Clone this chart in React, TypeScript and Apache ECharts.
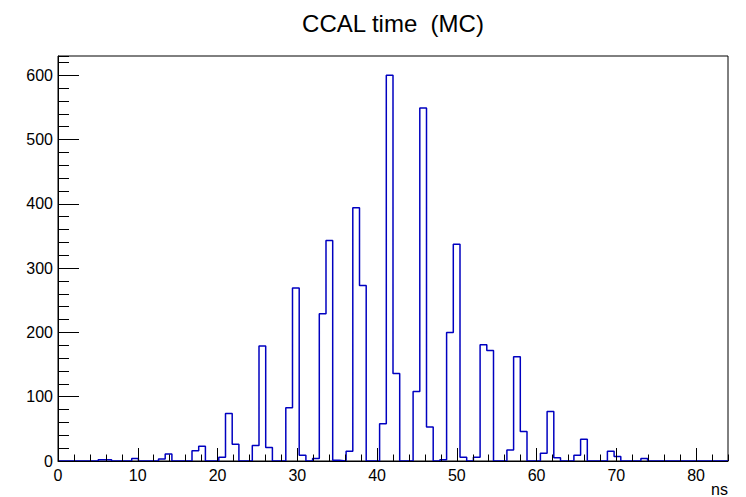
import React, { useEffect, useRef } from "react";
import * as echarts from "echarts";

// Histogram binning: 100 bins from 0 to 84 ns
const X_MIN = 0;
const X_MAX = 84;
const N_BINS = 100;

// Bin contents (bin 0 .. bin 99)
const counts: number[] = [
  0, 0, 0, 0, 0, 0, 2, 2, 0, 0, // 0-9
  0, 4, 0, 0, 0, 3, 11, 0, 0, 0, // 10-19
  16, 23, 0, 0, 6, 74, 26, 0, 0, 24, // 20-29
  179, 21, 0, 0, 83, 269, 9, 0, 4, 229, // 30-39
  343, 1, 0, 15, 394, 273, 0, 0, 58, 600, // 40-49
  136, 0, 0, 108, 549, 53, 0, 2, 200, 337, // 50-59
  6, 0, 6, 181, 172, 0, 0, 17, 162, 46, // 60-69
  0, 0, 12, 77, 5, 0, 0, 9, 34, 0, // 70-79
  0, 0, 15, 7, 0, 0, 0, 4, 0, 0, // 80-89
  0, 0, 0, 0, 0, 0, 0, 0, 0, 0, // 90-99
];

const TITLE = "CCAL time  (MC)";
const X_TITLE = "ns";
const Y_MAX = 630;

export default function App() {
  const ref = useRef<HTMLDivElement>(null);

  useEffect(() => {
    document.body.style.margin = "0";
    const chart = echarts.init(ref.current!, null, { renderer: "svg" });
    const font = "'Liberation Sans', Arial, Helvetica, sans-serif";
    const labelStyle = { color: "#000", fontFamily: font, fontSize: 16 };

    const binW = (X_MAX - X_MIN) / N_BINS;
    const data: [number, number][] = counts.map((c, i) => [X_MIN + i * binW, c]);
    data.push([X_MAX, counts[counts.length - 1]]);

    const option = {
      animation: false,
      backgroundColor: "#fff",
      grid: {
        left: 58,
        right: 18,
        top: 56,
        bottom: 35.5,
        show: true,
        borderColor: "#000",
        borderWidth: 1,
        backgroundColor: "transparent",
      },
      graphic: [
        {
          type: "text",
          x: 393,
          y: 23,
          style: {
            text: TITLE,
            font: `24px ${font}`,
            textAlign: "center",
            textVerticalAlign: "middle",
            fill: "#000",
          },
        },
      ],
      xAxis: [
        {
          type: "value",
          min: X_MIN,
          max: X_MAX,
          interval: 10,
          position: "bottom",
          z: 5,
          axisLine: { show: true, onZero: false, lineStyle: { color: "#000", width: 1 } },
          axisTick: { show: true, inside: true, length: 13, lineStyle: { color: "#000" } },
          axisLabel: { ...labelStyle, margin: 6, showMaxLabel: false },
          splitLine: { show: false },
          name: X_TITLE,
          nameLocation: "end",
          nameGap: 0,
          nameTextStyle: { ...labelStyle, align: "right", verticalAlign: "top", padding: [20, 0, 0, 0] },
        },
        {
          type: "value",
          min: X_MIN,
          max: X_MAX,
          interval: 2,
          position: "bottom",
          z: 5,
          axisLine: { show: false },
          axisTick: { show: true, inside: true, length: 6.5, lineStyle: { color: "#000" } },
          axisLabel: { show: false },
          splitLine: { show: false },
        },
      ],
      yAxis: [
        {
          type: "value",
          min: 0,
          max: Y_MAX,
          interval: 100,
          position: "left",
          z: 5,
          axisLine: { show: true, onZero: false, lineStyle: { color: "#000", width: 1 } },
          axisTick: { show: true, inside: true, length: 21, lineStyle: { color: "#000" } },
          axisLabel: { ...labelStyle, margin: 5, showMaxLabel: false },
          splitLine: { show: false },
        },
        {
          type: "value",
          min: 0,
          max: Y_MAX,
          interval: 20,
          position: "left",
          z: 5,
          axisLine: { show: false },
          axisTick: { show: true, inside: true, length: 11, lineStyle: { color: "#000" } },
          axisLabel: { show: false },
          splitLine: { show: false },
        },
      ],
      series: [
        {
          type: "line",
          step: "end",
          data,
          xAxisIndex: 0,
          yAxisIndex: 0,
          symbol: "none",
          showSymbol: false,
          z: 2,
          lineStyle: { color: "#0000c0", width: 1.5 },
        },
      ],
    };

    chart.setOption(option as any);
    return () => chart.dispose();
  }, []);

  return <div ref={ref} style={{ width: 746, height: 497 }} />;
}
